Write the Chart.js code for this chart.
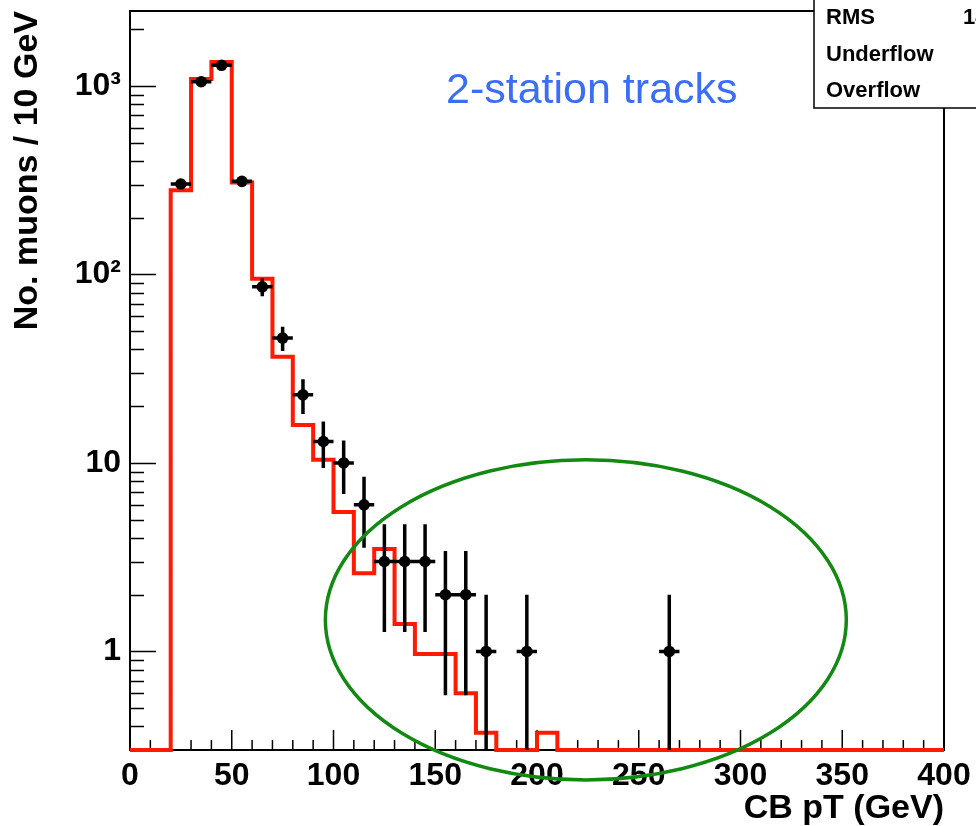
<!DOCTYPE html>
<html>
<head>
<meta charset="utf-8">
<title>CB pT - 2-station tracks</title>
<script src="https://cdn.jsdelivr.net/npm/chart.js@4.4.0/dist/chart.umd.js"></script>
<style>
  html, body { margin: 0; padding: 0; background: #fff; }
  canvas { display: block; }
</style>
</head>
<body>
<canvas id="ptChart" width="976" height="826"></canvas>
<script>
// --- histogram (simulation), 10 GeV bins ---
const binLowEdges = [0, 10, 20, 30, 40, 50, 60, 70, 80, 90,
                     100, 110, 120, 130, 140, 150, 160, 170, 180, 190,
                     200, 210, 220, 230, 240, 250, 260, 270, 280, 290,
                     300, 310, 320, 330, 340, 350, 360, 370, 380, 390];
const mcCounts = [0, 0, 280, 1089, 1342, 308, 95, 36.6, 15.9, 10.4,
                  5.5, 2.6, 3.5, 1.4, 0.97, 0.97, 0.6, 0.37, 0, 0,
                  0.37, 0, 0, 0, 0, 0, 0, 0, 0, 0,
                  0, 0, 0, 0, 0, 0, 0, 0, 0, 0];

// --- data points (bin centres, counts) ---
const dataCenters = [25, 35, 45, 55, 65, 75, 85, 95, 105, 115, 125, 135, 145, 155, 165, 175, 195, 265];
const dataCounts = [302, 1054, 1288, 312, 86, 46, 23, 13, 10, 6, 3, 3, 3, 2, 2, 1, 1, 1];

// --- axes ---
const xTicks = [0, 50, 100, 150, 200, 250, 300, 350, 400];
const yTicks = [1, 10, 100, 1000];
const yTickLabels = ['1', '10', '10\u00b2', '10\u00b3'];
const statsLabels = ['RMS', 'Underflow', 'Overflow'];

const X_MIN = 0, X_MAX = 400, Y_MIN = 0.3, Y_MAX = 2500;
const BIN_HALF = 5;

// ellipse drawn around the high-pT tail (GeV, counts)
const tailEllipseX = [96, 352];
const tailEllipseY = [0.208, 10.4];

const FONT = '"Liberation Sans", Arial, Helvetica, sans-serif';

// step line: each point holds the bin value up to the next edge
const histPoints = binLowEdges.map((x, i) => ({ x: x, y: Math.max(mcCounts[i], Y_MIN) }));
histPoints.push({ x: X_MAX, y: Math.max(mcCounts[mcCounts.length - 1], Y_MIN) });

const dataPoints = dataCenters.map((x, i) => ({ x: x, y: dataCounts[i] }));

const rootStyle = {
    id: 'rootStyle',

    beforeDatasetsDraw(chart) {
        const ctx = chart.ctx;
        const a = chart.chartArea;
        const xs = chart.scales.x, ys = chart.scales.y;
        ctx.save();
        ctx.strokeStyle = '#000';

        // frame
        ctx.lineWidth = 2;
        ctx.strokeRect(a.left, a.top, a.right - a.left, a.bottom - a.top);

        // x ticks, pointing inwards
        ctx.lineWidth = 1.5;
        ctx.beginPath();
        for (let v = X_MIN; v <= X_MAX; v += 10) {
            const px = xs.getPixelForValue(v);
            const len = v % 50 === 0 ? 20 : 10;
            ctx.moveTo(px, a.bottom);
            ctx.lineTo(px, a.bottom - len);
        }
        // y ticks (decades + 2..9 minors)
        for (let d = 0.1; d <= 1000; d *= 10) {
            for (let m = 1; m <= 9; m++) {
                const v = m * d;
                if (v < Y_MIN || v > Y_MAX) continue;
                const py = Math.round(ys.getPixelForValue(v)) + 0.5;
                const len = m === 1 ? 26 : 14;
                ctx.moveTo(a.left, py);
                ctx.lineTo(a.left + len, py);
            }
        }
        ctx.stroke();
        ctx.restore();
    },

    beforeDatasetDraw(chart, args) {
        if (args.index !== 0) return;
        // error bars for the data points
        const ctx = chart.ctx;
        const a = chart.chartArea;
        const xs = chart.scales.x, ys = chart.scales.y;
        ctx.save();
        ctx.strokeStyle = '#000';
        ctx.lineWidth = 3.5;
        ctx.beginPath();
        dataCenters.forEach((c, i) => {
            const n = dataCounts[i];
            const err = Math.sqrt(n);
            const px = xs.getPixelForValue(c);
            const py = ys.getPixelForValue(n);
            ctx.moveTo(xs.getPixelForValue(c - BIN_HALF), py);
            ctx.lineTo(xs.getPixelForValue(c + BIN_HALF), py);
            const lo = n - err > Y_MIN ? ys.getPixelForValue(n - err) : a.bottom;
            ctx.moveTo(px, lo);
            ctx.lineTo(px, ys.getPixelForValue(n + err));
        });
        ctx.stroke();
        ctx.restore();
    },

    afterDatasetsDraw(chart) {
        const ctx = chart.ctx;
        const xs = chart.scales.x, ys = chart.scales.y;
        ctx.save();

        // green ellipse
        const x1 = xs.getPixelForValue(tailEllipseX[0]);
        const x2 = xs.getPixelForValue(tailEllipseX[1]);
        const y1 = ys.getPixelForValue(tailEllipseY[1]);
        const y2 = ys.getPixelForValue(tailEllipseY[0]);
        ctx.strokeStyle = '#128a12';
        ctx.lineWidth = 3.5;
        ctx.beginPath();
        ctx.ellipse((x1 + x2) / 2, (y1 + y2) / 2, (x2 - x1) / 2, (y2 - y1) / 2, 0, 0, Math.PI * 2);
        ctx.stroke();

        // sample label
        ctx.fillStyle = '#3a6ef6';
        ctx.font = '43px ' + FONT;
        ctx.textBaseline = 'middle';
        ctx.textAlign = 'left';
        ctx.fillText('2-station tracks', 446, 91);

        // stats box, running off the top right corner
        ctx.fillStyle = '#fff';
        ctx.strokeStyle = '#000';
        ctx.lineWidth = 1.5;
        ctx.fillRect(814, -10, 200, 118);
        ctx.strokeRect(814, -10, 200, 118);
        ctx.fillStyle = '#000';
        ctx.font = 'bold 22px ' + FONT;
        statsLabels.forEach((t, i) => ctx.fillText(t, 826, 18 + i * 36.5));
        ctx.fillText('14', 963, 18);
        ctx.restore();
    }
};

// drop the label overhang Chart.js reserves around the axes
function noOverhang(scale) {
    scale.paddingTop = 0;
    scale.paddingBottom = 0;
    scale.paddingLeft = 0;
    scale.paddingRight = 0;
}

new Chart(document.getElementById('ptChart'), {
    type: 'scatter',
    data: {
        datasets: [
            {
                label: 'data',
                data: dataPoints,
                pointRadius: 5.8,
                pointBackgroundColor: '#000',
                pointBorderWidth: 0,
                showLine: false
            },
            {
                label: 'simulation',
                data: histPoints,
                showLine: true,
                stepped: 'before',
                borderColor: '#ff1a00',
                borderWidth: 4,
                pointRadius: 0,
                fill: false,
                clip: false
            }
        ]
    },
    plugins: [rootStyle],
    options: {
        responsive: false,
        animation: false,
        events: [],
        layout: { padding: { left: 0, top: 11, right: 32, bottom: 0 } },
        plugins: {
            legend: { display: false },
            tooltip: { enabled: false }
        },
        scales: {
            x: {
                type: 'linear',
                min: X_MIN,
                max: X_MAX,
                grid: { display: false, drawTicks: false },
                border: { display: false },
                afterFit(scale) { scale.height = 76; noOverhang(scale); },
                afterBuildTicks(scale) { scale.ticks = xTicks.map(v => ({ value: v })); },
                ticks: {
                    color: '#000',
                    padding: 7,
                    maxRotation: 0,
                    autoSkip: false,
                    font: { family: FONT, size: 32, weight: 'bold' }
                },
                title: {
                    display: true,
                    text: 'CB pT (GeV)',
                    align: 'end',
                    color: '#000',
                    padding: { top: 0, bottom: 0 },
                    font: { family: FONT, size: 34, weight: 'bold', lineHeight: 1 }
                }
            },
            y: {
                type: 'logarithmic',
                min: Y_MIN,
                max: Y_MAX,
                grid: { display: false, drawTicks: false },
                border: { display: false },
                afterFit(scale) { scale.width = 130; noOverhang(scale); },
                afterBuildTicks(scale) { scale.ticks = yTicks.map(v => ({ value: v })); },
                ticks: {
                    color: '#000',
                    padding: 9,
                    autoSkip: false,
                    font: { family: FONT, size: 32, weight: 'bold' },
                    callback: (v) => yTickLabels[yTicks.indexOf(v)]
                },
                title: {
                    display: true,
                    text: 'No. muons / 10 GeV',
                    align: 'end',
                    color: '#000',
                    padding: { top: 11, bottom: 0 },
                    font: { family: FONT, size: 34, weight: 'bold', lineHeight: 1 }
                }
            }
        }
    }
});
</script>
</body>
</html>
